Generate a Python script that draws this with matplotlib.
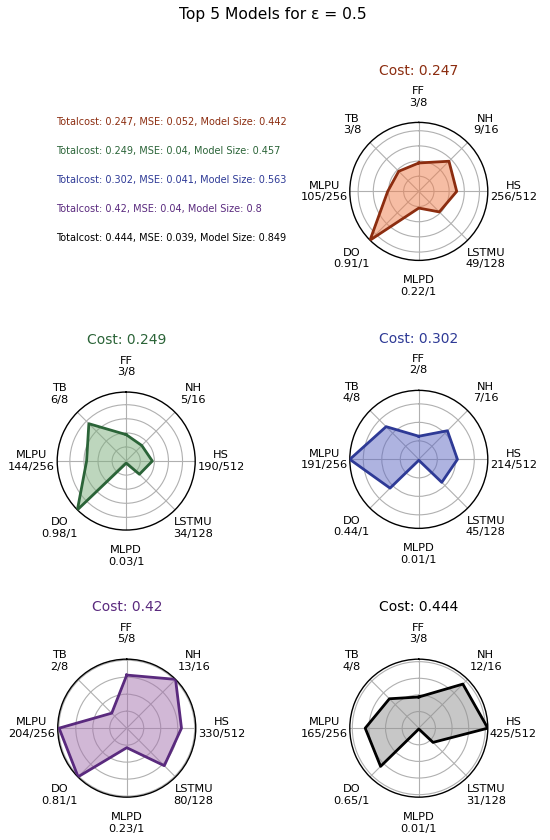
import numpy as np
import matplotlib
matplotlib.use('Agg')
import matplotlib.pyplot as plt

# radar axes and their maximum values
categories = ['FF', 'NH', 'HS', 'LSTMU', 'MLPD', 'DO', 'MLPU', 'TB']
max_vals = [8, 16, 512, 128, 1, 1, 256, 8]

# top 5 models for eps = 0.5
costs = [0.247, 0.249, 0.302, 0.42, 0.444]
mses = [0.052, 0.04, 0.041, 0.04, 0.039]
sizes = [0.442, 0.457, 0.563, 0.8, 0.849]

m1 = [3, 9, 256, 49, 0.22, 0.91, 105, 3]
m2 = [3, 5, 190, 34, 0.03, 0.98, 144, 6]
m3 = [2, 7, 214, 45, 0.01, 0.44, 191, 4]
m4 = [5, 13, 330, 80, 0.23, 0.81, 204, 2]
m5 = [3, 12, 425, 31, 0.01, 0.65, 165, 4]
models = [m1, m2, m3, m4, m5]

line_colors = ['#8c2d10', '#2b6438', '#2e3a96', '#5a2a7e', 'black']
fill_colors = ['#ef7d4b', '#7daf7d', '#5f69c3', '#a573af', '#919191']

fig = plt.figure(figsize=(5.5, 8.4), dpi=100)
fig.text(0.497, 1 - 14 / 840, 'Top 5 Models for ε = 0.5', fontsize=11.2,
         ha='center', va='center')

w, h = 138 / 550, 138 / 840
positions = [(0.636, 0.690), (0.104, 0.369), (0.636, 0.371),
             (0.105, 0.051), (0.636, 0.051)]

angles = np.linspace(0, 2 * np.pi, len(categories), endpoint=False)


def fmt(v, m):
    if m == 1:
        return f'{v:.2f}/1'
    return f'{int(v)}/{m}'


for i, vals in enumerate(models):
    ax = fig.add_axes([positions[i][0], positions[i][1], w, h], projection='polar')
    ax.set_theta_zero_location('N')
    ax.set_theta_direction(-1)
    r = np.array(vals, dtype=float) / np.array(max_vals)
    rmax = r.max()
    rr = np.append(r, r[0])
    aa = np.append(angles, angles[0])
    ax.fill(aa, rr, color=fill_colors[i], alpha=0.5, zorder=2)
    ax.plot(aa, rr, color=line_colors[i], lw=2, zorder=3)
    ax.set_ylim(0, rmax)
    ax.set_yticks([t for t in [0.2, 0.4, 0.6, 0.8] if t < rmax - 0.01])
    ax.set_yticklabels([])
    ax.set_xticks(angles)
    ax.set_xticklabels([f'{c}\n{fmt(v, m)}' for c, v, m in zip(categories, vals, max_vals)],
                       fontsize=8.2)
    ax.tick_params(axis='x', pad=8)
    ax.grid(color='#b0b0b0', lw=0.8)
    ax.spines['polar'].set_linewidth(1)
    ax.text(0.5, 1.375, f'Cost: {costs[i]}', transform=ax.transAxes,
            ha='center', va='center', fontsize=10, color=line_colors[i])

# text legend in the empty corner
for i in range(len(models)):
    fig.text(56 / 550, 1 - (122 + 29 * i) / 840,
             f'Totalcost: {costs[i]}, MSE: {mses[i]}, Model Size: {sizes[i]}',
             fontsize=7, color=line_colors[i], va='center')

plt.savefig('out.png', dpi=100)
